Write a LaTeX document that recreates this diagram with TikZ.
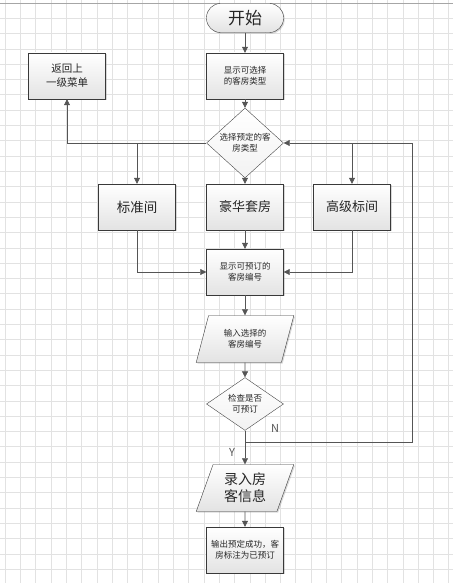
\documentclass[tikz,border=0pt]{standalone}
\usepackage{fontspec}
\setmainfont{Noto Sans CJK SC}
\usetikzlibrary{arrows.meta,shapes.geometric,shadows}
\definecolor{lineclr}{HTML}{555555}
\definecolor{gridclr}{HTML}{E2E2E2}

\begin{document}
\begin{tikzpicture}[x=1pt,y=-1pt,
  every node/.style={font=\fontsize{8.5}{11}\selectfont, align=center, inner sep=1pt, text=black!85},
  gridline/.style={draw=gridclr, line width=0.6pt},
  shade/.style={top color=white, bottom color=gray!22},
  shad/.style={drop shadow={shadow xshift=1.2pt, shadow yshift=-1.2pt, opacity=0.3, fill=gray}},
  box/.style={draw=gray!45!black, shade, shad, minimum width=77pt, minimum height=46pt},
  term/.style={draw=gray!45!black, shade, shad, rounded corners=14pt, minimum width=77pt, minimum height=29pt},
  decide/.style={diamond, draw=gray!55!black, top color=white, bottom color=gray!10, minimum width=77pt, minimum height=45pt, inner sep=0pt},
  io/.style={trapezium, trapezium left angle=70, trapezium right angle=110, draw=gray!45!black, shade, shad, minimum width=98pt, minimum height=47pt, trapezium stretches},
  arr/.style={draw=lineclr, line width=0.6pt, -{Triangle[length=6pt,width=6pt]}},
  link/.style={draw=lineclr, line width=0.6pt},
  lab/.style={font=\fontsize{11}{13}\selectfont, text=lineclr}
]
  \useasboundingbox (0,0) rectangle (453,583);
  % background grid
  \foreach \gx in {0,...,29}
    \draw[gridline] ({5+15.3*\gx},0) -- ({5+15.3*\gx},583);
  \foreach \gy in {0,...,37}
    \draw[gridline] (0,{3+15.3*\gy}) -- (453,{3+15.3*\gy});
  \draw[gray!70, line width=0.8pt] (0,3) -- (453,3);

  % nodes
  \node[term, font=\fontsize{17}{20}\selectfont] (start) at (245,18) {开始};
  \node[box] (show1) at (245,76) {显示可选择\\的客房类型};
  \node[box, font=\fontsize{10.5}{14}\selectfont] (back) at (67,76) {返回上\\一级菜单};
  \node[decide] (choose) at (245,143) {选择预定的客\\房类型};
  \node[box, font=\fontsize{13.5}{16}\selectfont] (biao) at (137,207) {标准间};
  \node[box, font=\fontsize{13}{16}\selectfont] (hao) at (245,207) {豪华套房};
  \node[box, font=\fontsize{13}{16}\selectfont] (gao) at (352,207) {高级标间};
  \node[box] (show2) at (245,272) {显示可预订的\\客房编号};
  \node[io] (input) at (245,339) {输入选择的\\客房编号};
  \node[decide] (check) at (245,404) {检查是否\\可预订};
  \node[io, font=\fontsize{14}{17}\selectfont] (rec) at (245,488) {录入房\\客信息};
  \node[box] (out) at (245,550) {输出预定成功，客\\房标注为已预订};
  \coordinate (loopR) at (412,143);
  \coordinate (loopB) at (412,442);
  \node[lab] (nlab) at (275,428) {N};
  \node[lab] (ylab) at (232,452) {Y};

  % connectors
  \draw[arr] (start) -- (show1);
  \draw[arr] (show1) -- (choose);
  \draw[arr] (choose.west) -| (back.south);
  \draw[arr] (choose.west -| biao.north) -- (biao.north);
  \draw[arr] (choose) -- (hao);
  \draw[arr] (loopR) -- (choose.east);
  \draw[arr] (choose.east -| gao.north) -- (gao.north);
  \draw[arr] (biao.south) |- (show2.west);
  \draw[arr] (gao.south) |- (show2.east);
  \draw[arr] (hao) -- (show2);
  \draw[arr] (show2) -- (input);
  \draw[arr] (input) -- (check);
  \draw[arr] (check) -- (rec);
  \draw[link] (check.south |- loopB) -- (loopB) -- (loopR);
  \draw[arr] (rec) -- (out);
\end{tikzpicture}
\end{document}
